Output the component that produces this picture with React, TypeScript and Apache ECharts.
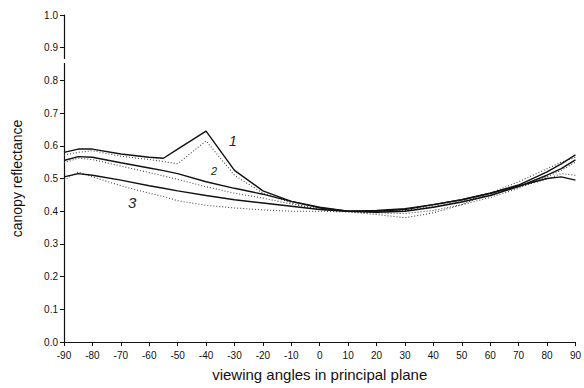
import React, { useEffect, useRef } from "react";
import * as echarts from "echarts";

const angles = [-90, -85, -80, -70, -60, -55, -50, -40, -30, -20, -10, 0, 10, 20, 30, 40, 50, 60, 70, 80, 85, 90];

const curve1Solid = [0.58, 0.59, 0.59, 0.575, 0.565, 0.562, 0.59, 0.645, 0.525, 0.462, 0.43, 0.41, 0.4, 0.4, 0.405, 0.42, 0.435, 0.455, 0.48, 0.52, 0.545, 0.572];
const curve1Dotted = [0.572, 0.58, 0.585, 0.568, 0.558, 0.552, 0.545, 0.615, 0.51, 0.455, 0.425, 0.405, 0.398, 0.39, 0.38, 0.395, 0.42, 0.455, 0.49, 0.53, 0.55, 0.565];
const curve2Solid = [0.555, 0.567, 0.565, 0.548, 0.532, 0.524, 0.515, 0.49, 0.47, 0.452, 0.43, 0.412, 0.4, 0.397, 0.4, 0.412, 0.428, 0.448, 0.475, 0.51, 0.53, 0.557];
const curve2Dotted = [0.548, 0.562, 0.558, 0.538, 0.518, 0.508, 0.497, 0.475, 0.455, 0.44, 0.422, 0.406, 0.4, 0.395, 0.393, 0.402, 0.42, 0.442, 0.47, 0.505, 0.525, 0.55];
const curve3Solid = [0.505, 0.515, 0.51, 0.495, 0.478, 0.47, 0.462, 0.448, 0.435, 0.425, 0.415, 0.405, 0.4, 0.402, 0.408, 0.42, 0.435, 0.455, 0.477, 0.5, 0.505, 0.495];
const curve3Dotted = [0.495, 0.52, 0.505, 0.478, 0.455, 0.445, 0.432, 0.418, 0.41, 0.404, 0.4, 0.4, 0.398, 0.398, 0.402, 0.415, 0.43, 0.45, 0.475, 0.498, 0.515, 0.51];

const curveLabels = ["1", "2", "3"];

const FONT = "Liberation Sans, Arial, sans-serif";

export default function App() {
  const ref = useRef<HTMLDivElement>(null);
  useEffect(() => {
    if (!ref.current) return;
    const chart = echarts.init(ref.current, null, { renderer: "svg" });
    const mk = (name: string, vals: number[], dotted: boolean) => ({
      name,
      type: "line",
      data: angles.map((a, i) => [a, vals[i]]),
      showSymbol: false,
      symbol: "none",
      lineStyle: dotted
        ? { color: "#444", width: 1.1, type: [1, 2] }
        : { color: "#111", width: 1.4, type: "solid" },
      z: dotted ? 2 : 3,
    });
    chart.setOption({
      animation: false,
      backgroundColor: "#fff",
      grid: { left: 64, right: 4, top: 15, bottom: 46 },
      xAxis: {
        type: "value",
        min: -90,
        max: 90,
        interval: 10,
        name: "viewing angles in principal plane",
        nameLocation: "middle",
        nameGap: 25,
        nameTextStyle: { fontFamily: FONT, fontSize: 15, color: "#111" },
        axisLine: { onZero: false, lineStyle: { color: "#111", width: 1.2 } },
        axisTick: { inside: false, length: 4, lineStyle: { color: "#111" } },
        axisLabel: { fontFamily: FONT, fontSize: 10, color: "#111", margin: 8 },
        splitLine: { show: false },
      },
      yAxis: {
        type: "value",
        min: 0,
        max: 1,
        interval: 0.1,
        name: "canopy reflectance",
        nameLocation: "middle",
        nameGap: 40,
        nameRotate: 90,
        nameTextStyle: { fontFamily: FONT, fontSize: 14, color: "#111" },
        axisLine: { show: true, onZero: false, lineStyle: { color: "#111", width: 1.2 } },
        axisTick: { show: true, inside: false, length: 4, lineStyle: { color: "#111" } },
        axisLabel: {
          fontFamily: FONT,
          fontSize: 10,
          color: "#111",
          margin: 6,
          formatter: (v: number) => v.toFixed(1),
        },
        splitLine: { show: false },
      },
      series: [
        mk("1 dotted", curve1Dotted, true),
        mk("2 dotted", curve2Dotted, true),
        mk("3 dotted", curve3Dotted, true),
        mk("1", curve1Solid, false),
        mk("2", curve2Solid, false),
        mk("3", curve3Solid, false),
      ],
      graphic: [
        { type: "rect", shape: { x: 62, y: 59, width: 5, height: 4 }, style: { fill: "#fff" }, z: 100 },
        {
          type: "text",
          x: 229,
          y: 134,
          style: { text: curveLabels[0], font: "italic 14px " + FONT, fill: "#222" },
        },
        {
          type: "text",
          x: 211,
          y: 165,
          style: { text: curveLabels[1], font: "italic 11px " + FONT, fill: "#222" },
        },
        {
          type: "text",
          x: 128,
          y: 195,
          style: { text: curveLabels[2], font: "italic 15px " + FONT, fill: "#222" },
        },
      ],
    });
    return () => chart.dispose();
  }, []);
  return (
    <div
      ref={ref}
      style={{ position: "fixed", left: 0, top: 0, width: 584, height: 388, background: "#fff" }}
    />
  );
}
